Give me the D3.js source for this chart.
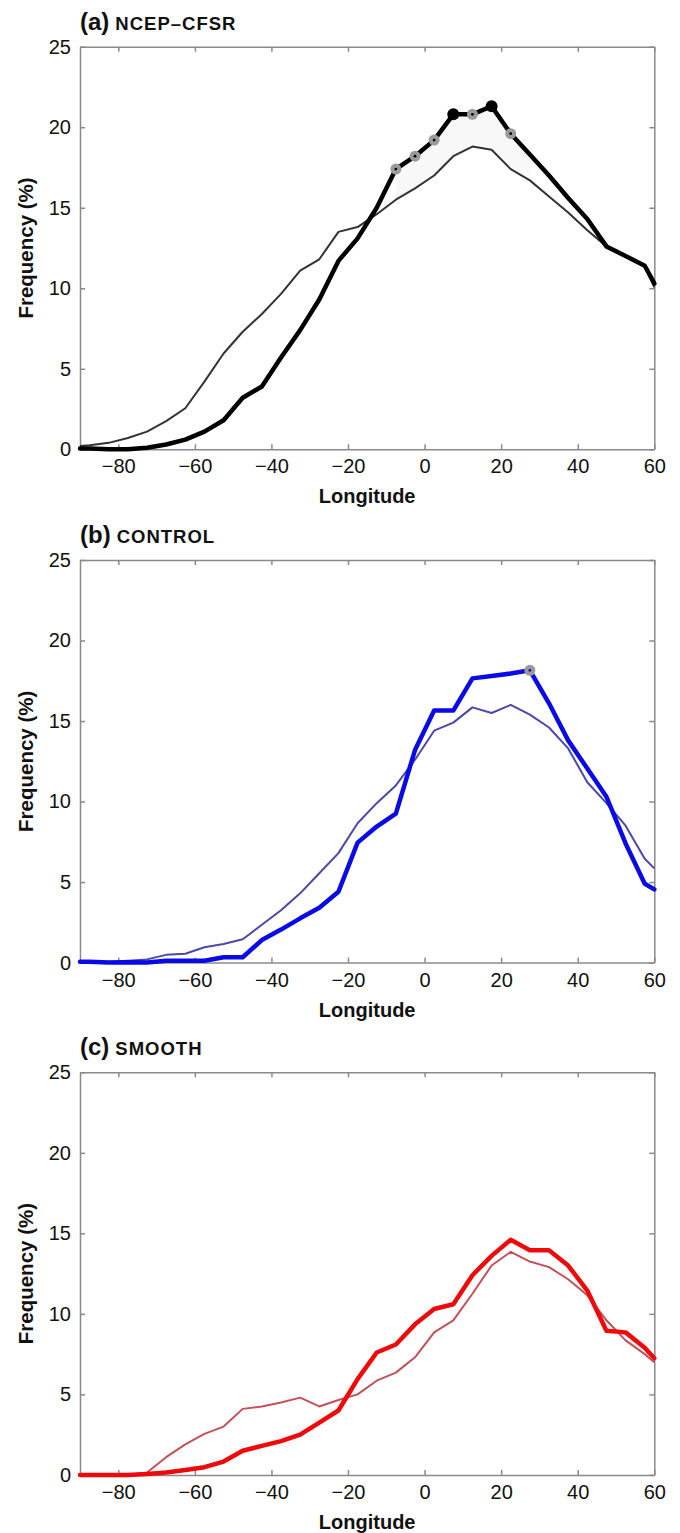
<!DOCTYPE html>
<html>
<head>
<meta charset="utf-8">
<script src="https://cdn.jsdelivr.net/npm/d3@7"></script>
<style>
  body { margin: 0; background: #fff; }
  svg { display: block; font-family: "Liberation Sans", Arial, Helvetica, sans-serif; }
  .tick text { font-size: 20px; fill: #111; }
  .axis path, .axis line { stroke: #8a8a8a; stroke-width: 1.5; }
</style>
</head>
<body>
<div id="chart-area"></div>
<script>
// longitude bin centres, plus the two ends of the axis
var lons = [-90, -87.5, -82.5, -77.5, -72.5, -67.5, -62.5, -57.5, -52.5, -47.5, -42.5,
    -37.5, -32.5, -27.5, -22.5, -17.5, -12.5, -7.5, -2.5, 2.5, 7.5, 12.5, 17.5,
    22.5, 27.5, 32.5, 37.5, 42.5, 47.5, 52.5, 57.5, 60];

// (a) NCEP-CFSR
var cfsrThick = [0.05, 0.05, 0, 0, 0.1, 0.3, 0.6, 1.1, 1.8, 3.2, 3.9, 5.7, 7.4, 9.3, 11.7, 13.1,
    15.0, 17.4, 18.2, 19.2, 20.8, 20.8, 21.3, 19.6, 18.3, 17.0, 15.6, 14.3, 12.6, 12.0, 11.4, 10.3];
var cfsrThin = [0.2, 0.25, 0.4, 0.7, 1.1, 1.75, 2.55, 4.2, 5.95, 7.3, 8.4, 9.65, 11.1, 11.8, 13.5, 13.8,
    14.6, 15.5, 16.2, 17.0, 18.2, 18.8, 18.6, 17.4, 16.7, 15.7, 14.7, 13.6, 12.6, 12.0, 11.4, 10.05];
var cfsrGrayMarks = [-7.5, -2.5, 2.5, 12.5, 22.5];
var cfsrBlackMarks = [7.5, 17.5];

// (b) CONTROL
var controlThick = [0.05, 0.05, 0, 0.02, 0, 0.12, 0.12, 0.12, 0.33, 0.33, 1.4, 2.05, 2.75, 3.4, 4.4, 7.45,
    8.45, 9.25, 13.2, 15.65, 15.65, 17.65, 17.8, 17.95, 18.15, 16.1, 13.8, 12.05, 10.3, 7.4, 4.9, 4.55];
var controlThin = [0, 0, 0.05, 0.12, 0.2, 0.48, 0.55, 0.95, 1.15, 1.45, 2.35, 3.25, 4.3, 5.55, 6.8, 8.65,
    9.9, 11.0, 12.6, 14.4, 14.9, 15.85, 15.5, 16.0, 15.4, 14.6, 13.3, 11.2, 9.9, 8.5, 6.45, 5.85];
var controlGrayMarks = [27.5];

// (c) SMOOTH
var smoothThick = [0, 0, 0, 0, 0.05, 0.15, 0.3, 0.48, 0.83, 1.5, 1.8, 2.1, 2.5, 3.25, 4.0, 5.95,
    7.6, 8.1, 9.35, 10.3, 10.6, 12.4, 13.6, 14.6, 13.95, 13.95, 13.0, 11.45, 8.95, 8.85, 7.9, 7.25];
var smoothThin = [0, 0, 0, 0, 0.15, 1.1, 1.9, 2.55, 3.0, 4.1, 4.25, 4.5, 4.8, 4.25, 4.65, 5.0,
    5.85, 6.35, 7.3, 8.85, 9.6, 11.25, 13.0, 13.85, 13.25, 12.9, 12.15, 11.15, 9.6, 8.35, 7.5, 7.0];

var xTicks = [-80, -60, -40, -20, 0, 20, 40, 60];
var yTicks = [0, 5, 10, 15, 20, 25];

var margin = { left: 80, top: 46.7 };
var width = 574.3;
var height = 402.6;

var svg = d3.select("#chart-area")
    .append("svg")
    .attr("width", 680)
    .attr("height", 1533);

var x = d3.scaleLinear().domain([-90, 60]).range([0, width]);
var y = d3.scaleLinear().domain([0, 25]).range([height, 0]);

var line = d3.line()
    .x(function (d) { return x(d[0]); })
    .y(function (d) { return y(d[1]); });

function pairs(vals) {
    return lons.map(function (lon, i) { return [lon, vals[i]]; });
}

function panel(top, letter, name, thick, thin, thickColor, thinColor, opts) {
    var g = svg.append("g")
        .attr("transform", "translate(" + margin.left + "," + top + ")");

    // title
    var title = g.append("text")
        .attr("x", 0)
        .attr("y", -17)
        .attr("font-weight", "bold")
        .attr("fill", "#111");
    title.append("tspan").attr("font-size", "24px").text(letter);
    title.append("tspan").attr("font-size", "18.5px").attr("dx", 6)
        .attr("letter-spacing", "1px").text(name);

    // faint shading between the curves (panel a only)
    if (opts.shade) {
        var lo = opts.shade[0], hi = opts.shade[1];
        var idx = lons.map(function (l, i) { return i; })
            .filter(function (i) { return lons[i] >= lo && lons[i] <= hi; });
        var area = d3.area()
            .x(function (i) { return x(lons[i]); })
            .y0(function (i) { return y(thin[i]); })
            .y1(function (i) { return y(thick[i]); });
        g.append("path").datum(idx)
            .attr("d", area)
            .attr("fill", "#f8f8f8");
    }

    // axes: box with inward ticks
    g.append("g").attr("class", "axis")
        .attr("transform", "translate(0," + height + ")")
        .call(d3.axisBottom(x).tickValues(xTicks).tickSizeInner(-5).tickSizeOuter(0).tickPadding(10));
    g.append("g").attr("class", "axis")
        .call(d3.axisTop(x).tickValues(xTicks).tickSizeInner(-5).tickSizeOuter(0).tickFormat(""));
    g.append("g").attr("class", "axis")
        .call(d3.axisLeft(y).tickValues(yTicks).tickSizeInner(-5).tickSizeOuter(0).tickPadding(9));
    g.append("g").attr("class", "axis")
        .attr("transform", "translate(" + width + ",0)")
        .call(d3.axisRight(y).tickValues(yTicks).tickSizeInner(-5).tickSizeOuter(0).tickFormat(""));

    // axis labels
    g.append("text")
        .attr("x", width / 2)
        .attr("y", height + 54)
        .attr("text-anchor", "middle")
        .attr("font-size", "20px")
        .attr("font-weight", "bold")
        .attr("fill", "#111")
        .text("Longitude");
    g.append("text")
        .attr("transform", "rotate(-90)")
        .attr("x", -height / 2)
        .attr("y", -47)
        .attr("text-anchor", "middle")
        .attr("font-size", "20.5px")
        .attr("font-weight", "bold")
        .attr("fill", "#111")
        .text("Frequency (%)");

    // lines
    g.append("path").datum(pairs(thin))
        .attr("d", line)
        .attr("fill", "none")
        .attr("stroke", thinColor)
        .attr("stroke-width", 2)
        .attr("stroke-linejoin", "round");
    g.append("path").datum(pairs(thick))
        .attr("d", line)
        .attr("fill", "none")
        .attr("stroke", thickColor)
        .attr("stroke-width", 4.5)
        .attr("stroke-linejoin", "round")
        .attr("stroke-linecap", "round");

    function valueAt(lon) { return thick[lons.indexOf(lon)]; }

    // markers
    (opts.black || []).forEach(function (lon) {
        g.append("circle")
            .attr("cx", x(lon)).attr("cy", y(valueAt(lon)))
            .attr("r", 6).attr("fill", "#000");
    });
    (opts.gray || []).forEach(function (lon) {
        g.append("circle")
            .attr("cx", x(lon)).attr("cy", y(valueAt(lon)))
            .attr("r", 5.5).attr("fill", "#9a9a9a");
        g.append("circle")
            .attr("cx", x(lon)).attr("cy", y(valueAt(lon)))
            .attr("r", 1.4).attr("fill", opts.dot || "#000");
    });
}

panel(46.7, "(a)", "NCEP\u2013CFSR", cfsrThick, cfsrThin, "#000", "#333",
    { shade: [-7.5, 27.5], gray: cfsrGrayMarks, black: cfsrBlackMarks });
panel(560, "(b)", "CONTROL", controlThick, controlThin, "#0a0ae6", "#4b48a8",
    { gray: controlGrayMarks, dot: "#1010b0" });
panel(1072.3, "(c)", "SMOOTH", smoothThick, smoothThin, "#ee0a0a", "#c4505a", {});
</script>
</body>
</html>
